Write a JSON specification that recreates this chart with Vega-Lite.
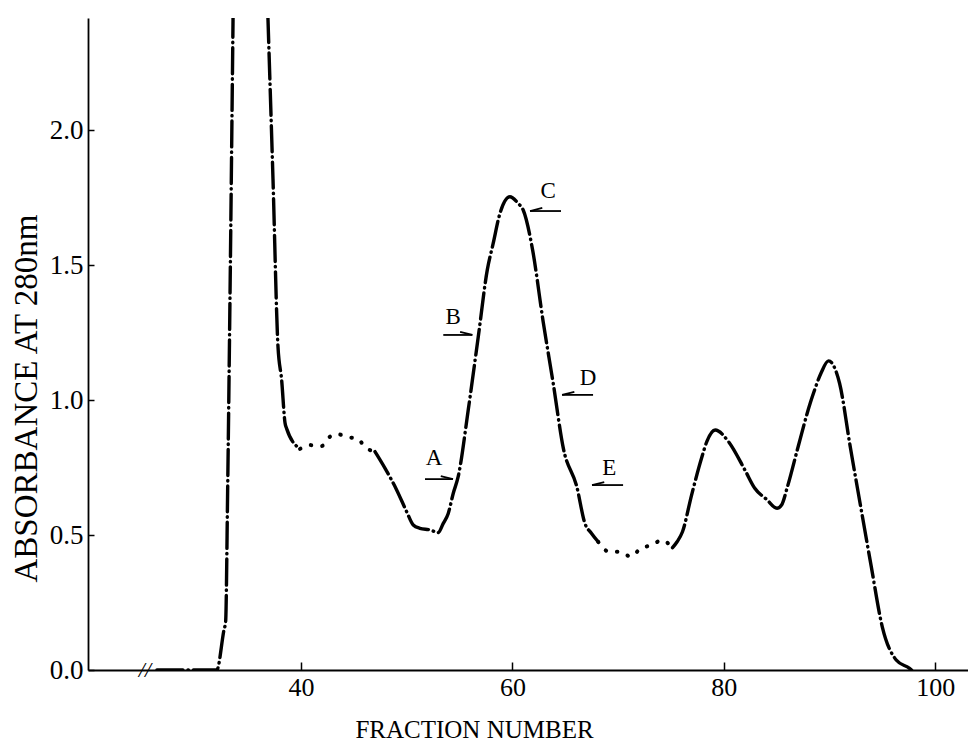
{
  "$schema": "https://vega.github.io/schema/vega-lite/v6.json",
  "width": 880,
  "height": 652,
  "autosize": {"type": "none"},
  "padding": {"left": 88, "top": 18, "right": 0, "bottom": 72},
  "background": "white",
  "config": {"view": {"stroke": null}, "font": "Liberation Serif"},
  "datasets": {
    "curve": [
      {"fraction": 26.37, "absorbance": 0, "section": "s1"},
      {"fraction": 30.7, "absorbance": 0, "section": "s1"},
      {"fraction": 32.03, "absorbance": 0, "section": "s1"},
      {"fraction": 32.71, "absorbance": 0.148, "section": "s1"},
      {"fraction": 32.87, "absorbance": 0.179, "section": "s1"},
      {"fraction": 33.06, "absorbance": 0.663, "section": "s1"},
      {"fraction": 33.28, "absorbance": 1.37, "section": "s1"},
      {"fraction": 33.57, "absorbance": 2.407, "section": "s1"},
      {"fraction": 34.43, "absorbance": 5.49, "section": "s1"},
      {"fraction": 36.88, "absorbance": 2.407, "section": "s1"},
      {"fraction": 37.35, "absorbance": 1.819, "section": "s1"},
      {"fraction": 37.82, "absorbance": 1.2, "section": "s1"},
      {"fraction": 38.17, "absorbance": 1.074, "section": "s1"},
      {"fraction": 38.49, "absorbance": 0.915, "section": "s1"},
      {"fraction": 38.65, "absorbance": 0.893, "section": "s1"},
      {"fraction": 39.91, "absorbance": 0.819, "section": "s1"},
      {"fraction": 39.91, "absorbance": 0.819, "section": "s2"},
      {"fraction": 40.85, "absorbance": 0.833, "section": "s2"},
      {"fraction": 41.96, "absorbance": 0.83, "section": "s2"},
      {"fraction": 42.74, "absorbance": 0.864, "section": "s2"},
      {"fraction": 43.38, "absorbance": 0.874, "section": "s2"},
      {"fraction": 44.47, "absorbance": 0.862, "section": "s2"},
      {"fraction": 45.27, "absorbance": 0.858, "section": "s2"},
      {"fraction": 46.21, "absorbance": 0.821, "section": "s2"},
      {"fraction": 47.0, "absorbance": 0.809, "section": "s2"},
      {"fraction": 47.0, "absorbance": 0.809, "section": "s3"},
      {"fraction": 47.94, "absorbance": 0.748, "section": "s3"},
      {"fraction": 49.05, "absorbance": 0.667, "section": "s3"},
      {"fraction": 50.0, "absorbance": 0.586, "section": "s3"},
      {"fraction": 50.62, "absorbance": 0.537, "section": "s3"},
      {"fraction": 51.25, "absorbance": 0.525, "section": "s3"},
      {"fraction": 52.2, "absorbance": 0.519, "section": "s3"},
      {"fraction": 52.98, "absorbance": 0.509, "section": "s3"},
      {"fraction": 53.46, "absorbance": 0.543, "section": "s3"},
      {"fraction": 53.93, "absorbance": 0.58, "section": "s3"},
      {"fraction": 54.4, "absorbance": 0.654, "section": "s3"},
      {"fraction": 54.87, "absorbance": 0.716, "section": "s3"},
      {"fraction": 55.82, "absorbance": 0.963, "section": "s3"},
      {"fraction": 56.77, "absorbance": 1.234, "section": "s3"},
      {"fraction": 57.62, "absorbance": 1.481, "section": "s3"},
      {"fraction": 58.18, "absorbance": 1.58, "section": "s3"},
      {"fraction": 58.82, "absorbance": 1.691, "section": "s3"},
      {"fraction": 59.76, "absorbance": 1.753, "section": "s3"},
      {"fraction": 60.55, "absorbance": 1.728, "section": "s3"},
      {"fraction": 61.02, "absorbance": 1.704, "section": "s3"},
      {"fraction": 61.91, "absorbance": 1.556, "section": "s3"},
      {"fraction": 62.91, "absorbance": 1.29, "section": "s3"},
      {"fraction": 63.86, "absorbance": 1.062, "section": "s3"},
      {"fraction": 64.82, "absorbance": 0.821, "section": "s3"},
      {"fraction": 66.09, "absorbance": 0.679, "section": "s3"},
      {"fraction": 66.86, "absorbance": 0.543, "section": "s3"},
      {"fraction": 67.49, "absorbance": 0.506, "section": "s3"},
      {"fraction": 68.11, "absorbance": 0.475, "section": "s3"},
      {"fraction": 68.11, "absorbance": 0.475, "section": "s4"},
      {"fraction": 69.15, "absorbance": 0.438, "section": "s4"},
      {"fraction": 70.17, "absorbance": 0.438, "section": "s4"},
      {"fraction": 71.21, "absorbance": 0.42, "section": "s4"},
      {"fraction": 72.15, "absorbance": 0.451, "section": "s4"},
      {"fraction": 73.26, "absorbance": 0.463, "section": "s4"},
      {"fraction": 74.11, "absorbance": 0.481, "section": "s4"},
      {"fraction": 75.15, "absorbance": 0.453, "section": "s4"},
      {"fraction": 75.15, "absorbance": 0.453, "section": "s5"},
      {"fraction": 75.58, "absorbance": 0.475, "section": "s5"},
      {"fraction": 76.09, "absorbance": 0.512, "section": "s5"},
      {"fraction": 76.95, "absorbance": 0.648, "section": "s5"},
      {"fraction": 77.89, "absorbance": 0.784, "section": "s5"},
      {"fraction": 78.39, "absorbance": 0.846, "section": "s5"},
      {"fraction": 79.18, "absorbance": 0.889, "section": "s5"},
      {"fraction": 80.44, "absorbance": 0.846, "section": "s5"},
      {"fraction": 81.99, "absorbance": 0.741, "section": "s5"},
      {"fraction": 82.93, "absorbance": 0.673, "section": "s5"},
      {"fraction": 84.04, "absorbance": 0.632, "section": "s5"},
      {"fraction": 85.04, "absorbance": 0.599, "section": "s5"},
      {"fraction": 85.46, "absorbance": 0.611, "section": "s5"},
      {"fraction": 86.02, "absorbance": 0.679, "section": "s5"},
      {"fraction": 87.03, "absorbance": 0.827, "section": "s5"},
      {"fraction": 88.17, "absorbance": 0.988, "section": "s5"},
      {"fraction": 88.48, "absorbance": 1.025, "section": "s5"},
      {"fraction": 89.2, "absorbance": 1.1, "section": "s5"},
      {"fraction": 89.9, "absorbance": 1.145, "section": "s5"},
      {"fraction": 90.95, "absorbance": 1.062, "section": "s5"},
      {"fraction": 91.96, "absorbance": 0.827, "section": "s5"},
      {"fraction": 93.06, "absorbance": 0.58, "section": "s5"},
      {"fraction": 93.95, "absorbance": 0.383, "section": "s5"},
      {"fraction": 94.99, "absorbance": 0.16, "section": "s5"},
      {"fraction": 96.31, "absorbance": 0.037, "section": "s5"},
      {"fraction": 97.57, "absorbance": 0.006, "section": "s5"},
      {"fraction": 97.76, "absorbance": 0, "section": "s5"}
    ],
    "labels": [
      {"fraction": 52.58, "absorbance": 0.785, "label": "A"},
      {"fraction": 54.39, "absorbance": 1.307, "label": "B"},
      {"fraction": 63.38, "absorbance": 1.774, "label": "C"},
      {"fraction": 67.16, "absorbance": 1.081, "label": "D"},
      {"fraction": 69.16, "absorbance": 0.748, "label": "E"}
    ],
    "arrows": [
      {"label": "A", "fraction": 54.38, "tail": 51.73, "absorbance": 0.707, "dir": "right"},
      {"label": "B", "fraction": 56.21, "tail": 53.46, "absorbance": 1.241, "dir": "right"},
      {"label": "C", "fraction": 61.67, "tail": 64.6, "absorbance": 1.7, "dir": "left"},
      {"label": "D", "fraction": 64.7, "tail": 67.63, "absorbance": 1.019, "dir": "left"},
      {"label": "E", "fraction": 67.53, "tail": 70.47, "absorbance": 0.685, "dir": "left"}
    ],
    "breaks": [
      {"fraction": 25.24, "absorbance": 0, "mark": "//"}
    ]
  },
  "encoding": {
    "x": {
      "field": "fraction",
      "type": "quantitative",
      "scale": {"domain": [19.85, 103.1], "nice": false, "zero": false},
      "axis": {
        "title": "FRACTION NUMBER",
        "values": [40, 60, 80, 100],
        "grid": false,
        "labelFlush": false,
        "tickSize": -8,
        "tickWidth": 1.5,
        "tickColor": "black",
        "domainColor": "black",
        "domainWidth": 1.8,
        "labelFont": "Liberation Serif",
        "labelFontSize": 26,
        "labelColor": "black",
        "labelBaseline": "alphabetic",
        "labelPadding": 33,
        "titleFont": "Liberation Serif",
        "titleFontSize": 25,
        "titleFontWeight": "normal",
        "titleColor": "black",
        "titleX": 386,
        "titleY": 67,
        "titleAlign": "center",
        "titleBaseline": "alphabetic"
      }
    },
    "y": {
      "field": "absorbance",
      "type": "quantitative",
      "scale": {"domain": [0, 2.415], "nice": false, "zero": false},
      "axis": {
        "title": "ABSORBANCE AT 280nm",
        "values": [0, 0.5, 1, 1.5, 2],
        "format": ".1f",
        "grid": false,
        "labelFlush": false,
        "tickSize": -6,
        "tickWidth": 1.5,
        "tickColor": "black",
        "domainColor": "black",
        "domainWidth": 1.8,
        "labelFont": "Liberation Serif",
        "labelFontSize": 27,
        "labelColor": "black",
        "labelPadding": 11,
        "titleFont": "Liberation Serif",
        "titleFontSize": 33,
        "titleFontWeight": "normal",
        "titleColor": "black",
        "titleX": -52,
        "titleY": 380,
        "titleAngle": 270,
        "titleAlign": "center",
        "titleBaseline": "alphabetic"
      }
    }
  },
  "layer": [
    {
      "data": {"name": "curve"},
      "transform": [{"filter": {"field": "section", "oneOf": ["s1", "s3", "s5"]}}],
      "mark": {"type": "line", "clip": true, "interpolate": "monotone", "color": "black", "strokeWidth": 3.4, "strokeDash": [26, 5, 0.5, 5], "strokeCap": "round", "strokeJoin": "round"},
      "encoding": {"detail": {"field": "section"}}
    },
    {
      "data": {"name": "curve"},
      "transform": [{"filter": {"field": "section", "oneOf": ["s2", "s4"]}}],
      "mark": {"type": "line", "clip": true, "interpolate": "monotone", "color": "black", "strokeWidth": 4, "strokeDash": [0.5, 11], "strokeCap": "round", "strokeJoin": "round"},
      "encoding": {"detail": {"field": "section"}}
    },
    {
      "data": {"name": "arrows"},
      "mark": {"type": "rule", "color": "black", "strokeWidth": 1.8},
      "encoding": {"x2": {"field": "tail"}}
    },
    {
      "data": {"name": "arrows"},
      "mark": {"type": "point", "filled": false, "color": "black", "strokeWidth": 1.8, "opacity": 1, "size": 150},
      "encoding": {
        "shape": {"field": "dir", "type": "nominal", "scale": {"domain": ["right", "left"], "range": ["M0,0L-2,-0.5", "M0,0L2,-0.5"]}, "legend": null}
      }
    },
    {
      "data": {"name": "labels"},
      "mark": {"type": "text", "font": "Liberation Serif", "fontSize": 23, "color": "black", "align": "center", "baseline": "middle"},
      "encoding": {"text": {"field": "label"}}
    },
    {
      "data": {"name": "breaks"},
      "mark": {"type": "text", "font": "Liberation Serif", "fontSize": 22, "fontStyle": "italic", "color": "black", "align": "center", "baseline": "middle"},
      "encoding": {"text": {"field": "mark"}}
    }
  ]
}
